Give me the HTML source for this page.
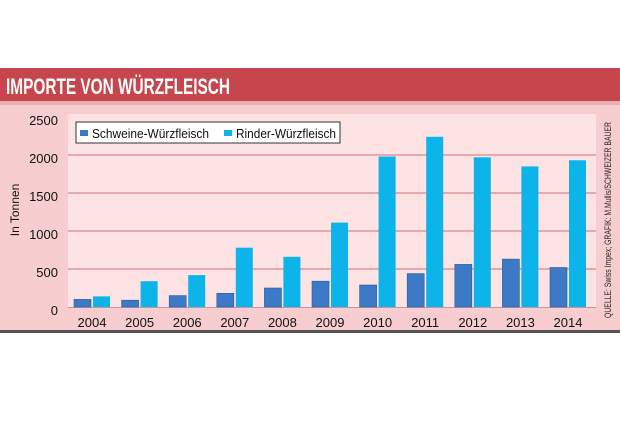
<!DOCTYPE html>
<html><head><meta charset="utf-8"><style>
body{margin:0;width:620px;height:420px;background:#fff;overflow:hidden;font-family:"Liberation Sans",Arial,sans-serif}
</style></head><body>
<svg width="620" height="420" xmlns="http://www.w3.org/2000/svg" font-family="Liberation Sans, Arial, sans-serif">
<rect x="0" y="100" width="620" height="230" fill="#f8cdd0"/>
<rect x="0" y="68" width="620" height="33" fill="#c7454d"/>
<rect x="0" y="101" width="620" height="4" fill="#e9aeb2"/>
<text x="6" y="94" font-size="22" font-weight="bold" fill="#fff" textLength="224" lengthAdjust="spacingAndGlyphs">IMPORTE VON WÜRZFLEISCH</text>
<rect x="68" y="114" width="528" height="194" fill="#fde3e4"/>
<g stroke="#d9878c" stroke-width="1.2">
<line x1="68" x2="596" y1="155" y2="155"/><line x1="68" x2="596" y1="193" y2="193"/>
<line x1="68" x2="596" y1="231" y2="231"/><line x1="68" x2="596" y1="269" y2="269"/>
</g>
<line x1="68" x2="596" y1="307.5" y2="307.5" stroke="#b9a" stroke-width="1"/>
<g font-size="13" fill="#111" text-anchor="end">
<text x="58" y="125">2500</text><text x="58" y="163">2000</text><text x="58" y="201">1500</text>
<text x="58" y="239">1000</text><text x="58" y="277">500</text><text x="58" y="315">0</text>
</g>
<text transform="translate(19,210) rotate(-90)" font-size="12" text-anchor="middle" fill="#111">In Tonnen</text>
<text transform="translate(611,220) rotate(-90)" font-size="9" text-anchor="middle" fill="#222" textLength="196" lengthAdjust="spacingAndGlyphs">QUELLE: Swiss Impex; GRAFIK: M.Mullis/SCHWEIZER BAUER</text>
<g fill="#3c7ac8" stroke="#2a5b9c" stroke-width="0.6">
<rect x="74" y="299.4" width="17" height="7.6"/>
<rect x="121.6" y="300.2" width="17" height="6.8"/>
<rect x="169.2" y="295.6" width="17" height="11.4"/>
<rect x="216.8" y="293.3" width="17" height="13.7"/>
<rect x="264.4" y="288" width="17" height="19"/>
<rect x="312" y="281.2" width="17" height="25.8"/>
<rect x="359.6" y="285" width="17" height="22"/>
<rect x="407.2" y="273.6" width="17" height="33.4"/>
<rect x="454.8" y="264.4" width="17" height="42.6"/>
<rect x="502.4" y="259.1" width="17" height="47.9"/>
<rect x="550" y="267.5" width="17" height="39.5"/>
</g>
<g fill="#0cb4ea">
<rect x="93" y="296.4" width="17" height="10.6"/>
<rect x="140.6" y="281.2" width="17" height="25.8"/>
<rect x="188.2" y="275.1" width="17" height="31.9"/>
<rect x="235.8" y="247.7" width="17" height="59.3"/>
<rect x="283.4" y="256.8" width="17" height="50.2"/>
<rect x="331" y="222.6" width="17" height="84.4"/>
<rect x="378.6" y="156.5" width="17" height="150.5"/>
<rect x="426.2" y="136.8" width="17" height="170.2"/>
<rect x="473.8" y="157.3" width="17" height="149.7"/>
<rect x="521.4" y="166.4" width="17" height="140.6"/>
<rect x="569" y="160.3" width="17" height="146.7"/>
</g>
<g font-size="13" fill="#111" text-anchor="middle">
<text x="92" y="327">2004</text><text x="139.6" y="327">2005</text><text x="187.2" y="327">2006</text>
<text x="234.8" y="327">2007</text><text x="282.4" y="327">2008</text><text x="330" y="327">2009</text>
<text x="377.6" y="327">2010</text><text x="425.2" y="327">2011</text><text x="472.8" y="327">2012</text>
<text x="520.4" y="327">2013</text><text x="568" y="327">2014</text>
</g>
<rect x="76" y="122" width="264" height="21" fill="#fff" stroke="#333" stroke-width="1"/>
<rect x="80" y="130" width="8" height="6" fill="#3c7ac8"/>
<text x="92" y="138" font-size="13" fill="#111" textLength="117" lengthAdjust="spacingAndGlyphs">Schweine-Würzfleisch</text>
<rect x="224" y="130" width="8" height="6" fill="#0cb4ea"/>
<text x="236" y="138" font-size="13" fill="#111" textLength="100" lengthAdjust="spacingAndGlyphs">Rinder-Würzfleisch</text>
<rect x="0" y="330" width="620" height="3" fill="#555"/>
</svg>
</body></html>
